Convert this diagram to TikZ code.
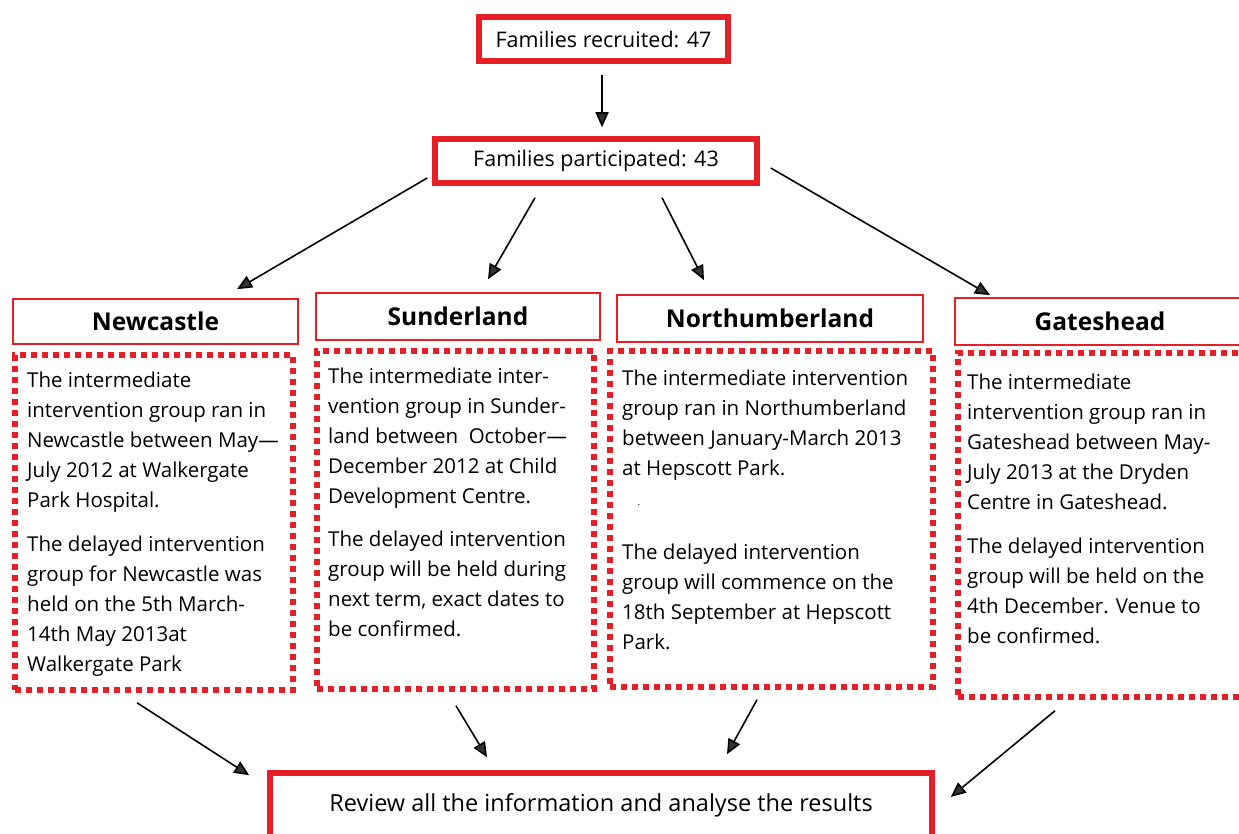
\documentclass[tikz,border=0pt]{standalone}
\usepackage{fontspec}
\setmainfont{Open Sans}
\usetikzlibrary{arrows.meta,calc}
\definecolor{boxred}{RGB}{230,30,38}
\definecolor{tipgray}{RGB}{50,50,50}
\begin{document}
\begin{tikzpicture}[x=1pt,y=-1pt,
 thickbox/.style={draw=boxred,line width=5.5pt,inner sep=0pt},
 hdrbox/.style={draw=boxred,line width=1.6pt,inner sep=0pt,font=\fontsize{24.5}{28}\selectfont\bfseries},
 dotbox/.style={draw=boxred,line width=5.5pt,dash pattern=on 6pt off 5pt,inner sep=0pt},
 body/.style={anchor=north west,align=left,inner sep=0pt,font=\fontsize{20.5}{30}\selectfont},
 arr/.style={line width=1.6pt,-{Triangle[length=15pt,width=13pt,fill=tipgray]}}
]
\useasboundingbox (0,0) rectangle (1239,834);
\fill[white] (0,0) rectangle (1239,834);

% top boxes
\node[thickbox,minimum width=249pt,minimum height=44pt,font=\fontsize{21.5}{24}\selectfont] (rec) at (603.5,39) {Families recruited: 47};
\node[thickbox,minimum width=322pt,minimum height=44pt,font=\fontsize{21.5}{24}\selectfont] (par) at (596,161) {Families participated: 43};

% headers
\node[hdrbox,minimum width=285pt,minimum height=45pt] (nch) at (155.5,321.5) {Newcastle};
\node[hdrbox,minimum width=284pt,minimum height=47pt] (sdh) at (458,316.5) {Sunderland};
\node[hdrbox,minimum width=306pt,minimum height=47pt] (nbh) at (770,318.5) {Northumberland};
\node[hdrbox,minimum width=290pt,minimum height=47pt] (ghh) at (1100,321.5) {Gateshead};

% dotted boxes
\node[dotbox,minimum width=278pt,minimum height=335pt] (ncd) at (154,522.5) {};
\node[dotbox,minimum width=277pt,minimum height=338pt] (sdd) at (455.5,520) {};
\node[dotbox,minimum width=323pt,minimum height=336pt] (nbd) at (771.5,519) {};
\node[dotbox,minimum width=287pt,minimum height=344pt] (ghd) at (1101.5,525) {};

% body texts
\node[body] (ncA) at (27,372) {The intermediate\\intervention group ran in\\Newcastle between May—\\July 2012 at Walkergate\\Park Hospital.};
\node[body] (ncB) at (27,536) {The delayed intervention\\group for Newcastle was\\held on the 5th March-\\14th May 2013at\\Walkergate Park};

\node[body] (sdA) at (328,368) {The intermediate inter-\\vention group in Sunder-\\land between \ October—\\December 2012 at Child\\Development Centre.};
\node[body] (sdB) at (328,531) {The delayed intervention\\group will be held during\\next term, exact dates to\\be confirmed.};

\node[body] (nbA) at (622,370) {The intermediate intervention\\group ran in Northumberland\\between January-March 2013\\at Hepscott Park.};
\node[inner sep=0pt,font=\fontsize{10}{10}\selectfont] (nbdot) at (639,505) {.};
\node[body] (nbB) at (622,544) {The delayed intervention\\group will commence on the\\18th September at Hepscott\\Park.};

\node[body] (ghA) at (967,374) {The intermediate\\intervention group ran in\\Gateshead between May-\\July 2013 at the Dryden\\Centre in Gateshead.};
\node[body] (ghB) at (967,538) {The delayed intervention\\group will be held on the\\4th December. Venue to\\be confirmed.};

% bottom box
\node[thickbox,minimum width=662pt,minimum height=64pt,font=\fontsize{23.5}{26}\selectfont] (rev) at (601,805) {Review all the information and analyse the results};

% arrows
\draw[arr] ($(rec.south)+(-1.5,11)$) -- ($(par.north)+(6,-9)$);
\draw[arr] ($(par.west)+(-5,17)$) -- ($(nch.north)+(81.5,-9)$);
\draw[arr] ($(par.south)+(-61,12)$) -- ($(sdh.north)+(30,-13)$);
\draw[arr] ($(par.south)+(66,12)$) -- ($(nbh.north)+(-66,-14)$);
\draw[arr] ($(par.east)+(11,7)$) -- ($(ghh.north)+(-110,-2)$);
\draw[arr] ($(ncd.south)+(-17,10)$) -- ($(rev.north west)+(-18,5)$);
\draw[arr] ($(sdd.south)+(0.5,14)$) -- ($(rev.north)+(-114,-13)$);
\draw[arr] ($(nbd.south)+(-14.5,10)$) -- ($(rev.north)+(126,-16)$);
\draw[arr] ($(ghd.south)+(-46.5,11)$) -- ($(rev.east)+(16,-8)$);
\end{tikzpicture}
\end{document}
